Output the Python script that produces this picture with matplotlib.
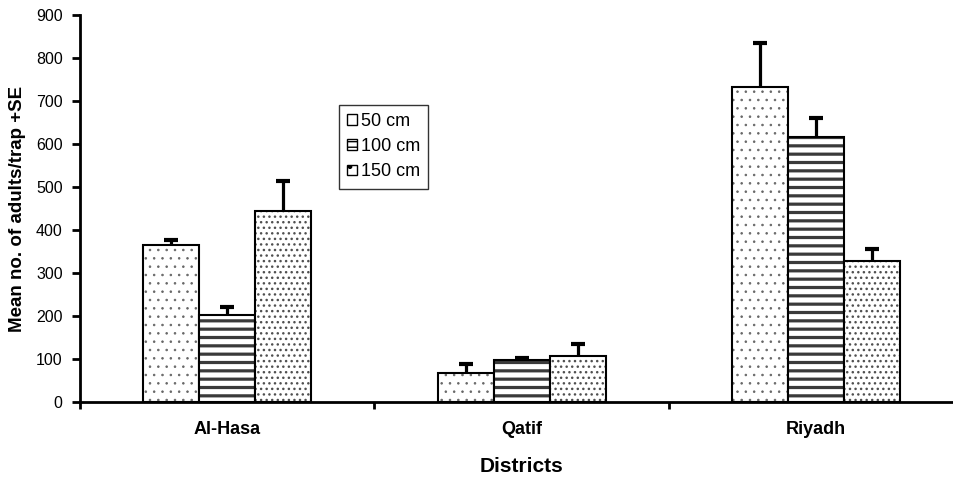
import matplotlib
matplotlib.use('Agg')
import matplotlib.pyplot as plt
from matplotlib.patches import Patch
import numpy as np

plt.rcParams['font.family'] = ['Liberation Sans', 'DejaVu Sans']

districts = ['Al-Hasa', 'Qatif', 'Riyadh']
series = ['50 cm', '100 cm', '150 cm']
mean_50 = [366, 68, 733]
se_50 = [10, 20, 103]
mean_100 = [202, 98, 616]
se_100 = [20, 5, 44]
mean_150 = [445, 107, 328]
se_150 = [69, 28, 28]

means = [mean_50, mean_100, mean_150]
errors = [se_50, se_100, se_150]
hatches = ['..', '--', '...']
hatch_cols = ['#666666', '#3a3a3a', '#505050']
hatch_lw = [0.6, 2.3, 1.0]

fig = plt.figure(figsize=(9.54, 4.79), dpi=100)
# the x axis runs a little past the right border in the original
ax = fig.add_axes([80 / 954, 1 - 402 / 479, 883.5 / 954, 387 / 479])

x = np.arange(len(districts))
width = 0.19
for i in range(3):
    pos = x + (i - 1) * width
    # hatch layer, then the black outline on top
    plt.rcParams['hatch.linewidth'] = hatch_lw[i]
    ax.bar(pos, means[i], width, color='white', edgecolor=hatch_cols[i],
           hatch=hatches[i], linewidth=0)
    ax.bar(pos, means[i], width, fill=False, edgecolor='black', linewidth=1.5)
    eb = ax.errorbar(pos, means[i], yerr=[np.zeros(3), errors[i]], fmt='none',
                     ecolor='black', elinewidth=2.3, capsize=4.7, capthick=3)
    eb[1][0].set_visible(False)  # no lower cap

ax.set_xlim(-0.5, 2.5)
ax.set_ylim(0, 900)
ax.set_yticks(np.arange(0, 901, 100))
ax.set_xticks([-0.5, 0.5, 1.5, 2.5])
ax.set_xticklabels([])
ax.set_xticks(x, minor=True)
ax.set_xticklabels(districts, minor=True, fontsize=13, fontweight='bold')
ax.tick_params(axis='x', which='minor', length=0, pad=14)
ax.tick_params(axis='x', which='major', length=5, width=2, direction='out')
ax.tick_params(axis='y', length=6, width=2, pad=6.5, labelsize=11.5)

for s in ['top', 'right']:
    ax.spines[s].set_visible(False)
ax.spines['left'].set_linewidth(2)
ax.spines['bottom'].set_linewidth(2)

ax.set_xlabel('Districts', fontsize=15, fontweight='bold', labelpad=13)
ax.set_ylabel('Mean no. of adults/trap +SE', fontsize=13.5, fontweight='bold', labelpad=7)

plt.rcParams['hatch.linewidth'] = 1.0
handles = [Patch(facecolor='white', edgecolor='black', hatch=h, linewidth=1) for h in ['', '---', '.']]
leg = ax.legend(handles, series, loc='upper left', bbox_to_anchor=(339 / 954, 1 - 105 / 479),
                bbox_transform=fig.transFigure, borderaxespad=0, fontsize=13,
                handlelength=0.55, handleheight=0.55, handletextpad=0.2,
                labelspacing=0.45, borderpad=0.45, fancybox=False, framealpha=1)
leg.get_frame().set_edgecolor('#333333')
leg.get_frame().set_linewidth(1)

plt.savefig('out.png', dpi=100)
plt.close()
